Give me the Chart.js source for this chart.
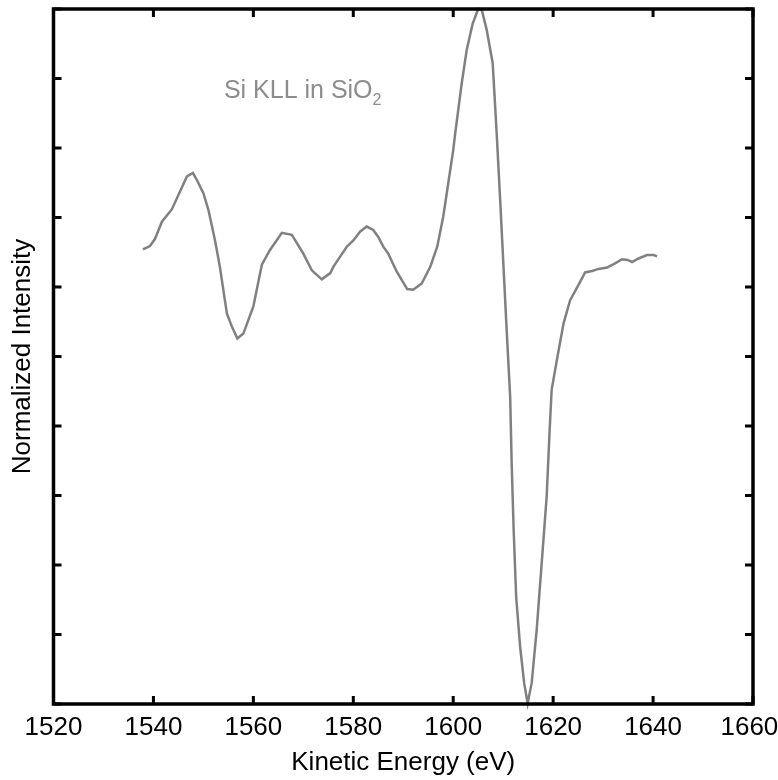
<!DOCTYPE html>
<html>
<head>
<meta charset="utf-8">
<script src="https://cdn.jsdelivr.net/npm/chart.js@4"></script>
<style>
  html, body { margin: 0; padding: 0; background: #fff; }
  #wrap { width: 778px; height: 780px; }
</style>
</head>
<body>
<div id="wrap"><canvas id="augerChart"></canvas></div>
<script>
// Kinetic energy (eV)
const energy = [
  1537.9, 1539.3, 1540.3, 1541.7, 1543.7, 1545.3, 1546.7, 1547.9, 1548.7, 1550.0,
  1551.0, 1552.3, 1553.3, 1554.7, 1555.7, 1556.8, 1558.0, 1560.0, 1561.7, 1563.3,
  1565.7, 1567.7, 1570.0, 1571.7, 1573.7, 1575.4, 1576.0, 1577.4, 1578.7, 1580.0,
  1581.4, 1582.7, 1584.0, 1585.0, 1586.0, 1587.0, 1588.7, 1590.8, 1592.0, 1593.7,
  1595.4, 1596.8, 1598.0, 1599.0, 1600.0, 1600.4, 1601.7, 1602.7, 1603.9, 1605.0,
  1605.7, 1606.7, 1607.9, 1608.7, 1609.4, 1610.7, 1611.4, 1611.7, 1612.1, 1612.6,
  1613.4, 1614.2, 1614.9, 1615.7, 1616.7, 1617.7, 1618.7, 1619.3, 1619.7, 1620.9,
  1622.1, 1623.4, 1624.7, 1626.4, 1627.8, 1629.1, 1630.8, 1632.4, 1633.8, 1634.9,
  1635.8, 1637.1, 1638.8, 1640.1, 1640.8
];

// Normalized intensity (arbitrary units, axis spans 0..10)
const intensity = [
  6.54, 6.59, 6.69, 6.94, 7.12, 7.37, 7.59, 7.64, 7.54, 7.35,
  7.11, 6.68, 6.29, 5.62, 5.43, 5.26, 5.33, 5.72, 6.32, 6.53,
  6.78, 6.75, 6.48, 6.24, 6.11, 6.20, 6.29, 6.44, 6.58, 6.67,
  6.80, 6.87, 6.82, 6.72, 6.58, 6.48, 6.22, 5.97, 5.96, 6.05,
  6.29, 6.58, 7.01, 7.49, 7.97, 8.21, 8.93, 9.41, 9.79, 10.0,
  9.99, 9.70, 9.22, 8.21, 7.25, 5.38, 4.42, 3.46, 2.50, 1.54,
  0.82, 0.30, 0.01, 0.30, 1.06, 2.02, 2.98, 3.94, 4.52, 5.01,
  5.48, 5.81, 5.98, 6.21, 6.23, 6.26, 6.28, 6.34, 6.40, 6.39,
  6.36, 6.41, 6.46, 6.46, 6.44
];

const xTicks = [1520, 1540, 1560, 1580, 1600, 1620, 1640, 1660];
const yTicks = [0, 1, 2, 3, 4, 5, 6, 7, 8, 9, 10];

const points = energy.map((e, i) => ({ x: e, y: intensity[i] }));

const fontFamily = "'Liberation Sans', Arial, sans-serif";

// Frame, inward tick marks on all four sides and the text label
const framePlugin = {
  id: "frame",
  afterDraw(chart) {
    const ctx = chart.ctx;
    const area = chart.chartArea;
    const xs = chart.scales.x;
    const ys = chart.scales.y;
    const len = 8;
    ctx.save();
    ctx.strokeStyle = "#000";
    ctx.lineWidth = 3;
    ctx.beginPath();
    xTicks.forEach(v => {
      const px = xs.getPixelForValue(v);
      ctx.moveTo(px, area.bottom);
      ctx.lineTo(px, area.bottom - len);
      ctx.moveTo(px, area.top);
      ctx.lineTo(px, area.top + len);
    });
    yTicks.forEach(v => {
      const py = ys.getPixelForValue(v);
      ctx.moveTo(area.left, py);
      ctx.lineTo(area.left + len, py);
      ctx.moveTo(area.right, py);
      ctx.lineTo(area.right - len, py);
    });
    ctx.stroke();
    ctx.lineWidth = 3.5;
    ctx.strokeRect(area.left, area.top, area.right - area.left, area.bottom - area.top);

    // "Si KLL in SiO2" label
    const tx = xs.getPixelForValue(1554.1);
    const ty = ys.getPixelForValue(8.72);
    ctx.fillStyle = "#8c8c8c";
    ctx.textBaseline = "alphabetic";
    ctx.textAlign = "left";
    ctx.font = "25px " + fontFamily;
    const main = "Si KLL in SiO";
    ctx.fillText(main, tx, ty);
    const w = ctx.measureText(main).width;
    ctx.font = "16px " + fontFamily;
    ctx.fillText("2", tx + w, ty + 7);
    ctx.restore();
  }
};

const ctx = document.getElementById("augerChart");

new Chart(ctx, {
  type: "scatter",
  data: {
    datasets: [{
      data: points,
      showLine: true,
      borderColor: "#808080",
      borderWidth: 2.5,
      pointRadius: 0,
      tension: 0,
      clip: false
    }]
  },
  options: {
    responsive: true,
    maintainAspectRatio: false,
    animation: false,
    layout: { padding: { top: 9, right: 25, left: 0, bottom: 0 } },
    plugins: {
      legend: { display: false },
      tooltip: { enabled: false }
    },
    scales: {
      x: {
        type: "linear",
        min: 1520,
        max: 1660,
        afterBuildTicks: scale => { scale.ticks = xTicks.map(v => ({ value: v })); },
        afterFit: scale => {
          scale.height = 76;
          scale.paddingLeft = 0;
          scale.paddingRight = 0;
        },
        grid: { display: false, drawTicks: false },
        border: { display: false },
        ticks: {
          color: "#000",
          padding: 8,
          maxRotation: 0,
          // last label nudged left a little so it stays inside the canvas
          callback: v => (v === 1660 ? String(v) + " " : String(v)),
          font: { family: fontFamily, size: 26 }
        },
        title: {
          display: true,
          text: "Kinetic Energy (eV)",
          color: "#000",
          padding: { top: 0, bottom: 1.5 },
          font: { family: fontFamily, size: 26 }
        }
      },
      y: {
        min: 0,
        max: 10,
        afterBuildTicks: scale => { scale.ticks = yTicks.map(v => ({ value: v })); },
        afterFit: scale => { scale.width = 53.5; },
        grid: { display: false, drawTicks: false },
        border: { display: false },
        ticks: { display: false },
        title: {
          display: true,
          text: "Normalized Intensity",
          color: "#000",
          padding: { top: 7, bottom: 0 },
          font: { family: fontFamily, size: 26 }
        }
      }
    }
  },
  plugins: [framePlugin]
});
</script>
</body>
</html>
